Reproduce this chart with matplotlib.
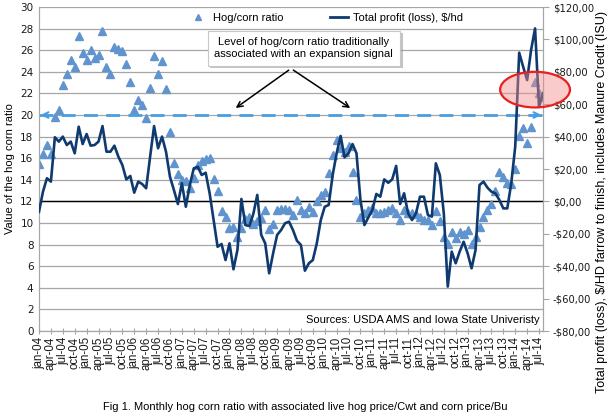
import matplotlib
matplotlib.use("Agg")
import matplotlib.pyplot as plt
import matplotlib.patheffects as pe
from matplotlib.patches import Ellipse
from matplotlib.lines import Line2D
import numpy as np

# ---------------- data ----------------
months = [f"{m}-{y:02d}" for y in range(4, 15) for m in
          ["jan", "feb", "mar", "apr", "may", "jun", "jul", "aug", "sep", "oct", "nov", "dec"]][:128]

hog_corn_ratio = [
    15.5, 16.4, 17.2, 16.4, 19.8, 20.5, 22.8, 23.8, 25.1, 24.4, 27.3, 25.7,
    25.1, 26.0, 25.3, 25.6, 27.8, 24.4, 23.8, 26.3, 26.1, 25.9, 24.7, 23.1,
    20.5, 21.4, 20.9, 19.7, 22.5, 25.5, 23.8, 25.0, 22.4, 18.4, 15.6, 14.5,
    14.0, 13.9, 13.2, 14.2, 15.4, 15.7, 15.9, 16.0, 14.1, 13.0, 11.1, 10.6,
    9.5, 9.6, 8.7, 9.5, 10.4, 10.6, 9.9, 10.2, 10.5, 11.2, 9.4, 9.9,
    11.2, 11.3, 11.3, 11.2, 10.7, 12.1, 11.2, 10.9, 11.5, 11.0, 12.0, 12.6,
    12.9, 14.6, 16.3, 17.7, 16.9, 16.6, 17.1, 14.7, 12.1, 10.6, 10.9, 11.2,
    11.4, 10.9, 10.9, 11.0, 11.2, 11.4, 10.9, 10.3, 11.2, 10.9, 10.9, 10.8,
    10.6, 10.3, 10.3, 9.8, 11.1, 10.2, 8.7, 8.1, 9.2, 8.6, 9.2, 9.0,
    9.35, 8.1, 8.7, 9.65, 10.6, 11.2, 11.8, 13.0, 14.75, 14.3, 13.7, 13.6,
    15.0, 18.1, 18.8, 17.4, 18.9, 23.1, 22.0, 21.7,
]

total_profit = [
    -6.4, 6.0, 14.3, 12.2, 39.6, 36.9, 40.0, 34.8, 36.9, 29.7, 46.1, 35.4,
    41.6, 34.4, 34.8, 36.9, 46.5, 30.7, 30.7, 34.4, 27.6, 22.5, 13.6, 15.7,
    5.4, 12.2, 10.7, 8.1, 27.6, 46.5, 32.8, 40.0, 30.7, 15.2, 7.0, -1.6,
    11.2, -3.3, 10.1, 20.4, 21.4, 16.3, 17.7, 5.0, -11.5, -28.0, -26.3, -36.2,
    -25.9, -41.9, -30.0, 1.5, -14.6, -15.2, -7.8, 4.0, -20.7, -25.9, -44.4, -32.0,
    -20.7, -17.7, -13.5, -12.5, -17.7, -24.3, -26.9, -42.8, -38.2, -36.2, -25.9, -11.5,
    -3.3, -2.2, 16.3, 29.7, 40.4, 27.2, 29.7, 35.4, 29.7, 0.9, -14.6, -9.8,
    -5.3, 4.6, 2.9, 13.6, 11.5, 13.6, 21.9, -1.6, 5.0, -7.3, -11.5, -7.3,
    2.9, 2.9, -8.4, -9.4, 23.5, 16.3, -7.3, -52.6, -31.0, -38.2, -31.0, -24.9,
    -32.0, -41.3, -30.0, 10.1, 12.2, 8.5, 6.0, 5.0, 0.9, -4.3, -4.3, 11.2,
    33.8, 91.8, 83.1, 74.9, 93.5, 106.8, 58.5, 66.7,
]

expansion_level = 20
left_ticks = list(range(0, 31, 2))
right_ticks = list(range(-80, 121, 20))

# ---------------- figure ----------------
plt.rcParams['font.family'] = ['Liberation Sans', 'DejaVu Sans']
fig = plt.figure(figsize=(6.10, 4.19), dpi=100)
ax = fig.add_axes([39/610, 1-331/419, (543-39)/610, (331-7)/419])
ax2 = ax.twinx()

x = np.arange(len(months))
grid_c = '#A6A6A6'
tri_c = '#6194CE'
line_c = '#0E3A70'

# left axis
ax.set_xlim(0, len(months) - 1)
ax.set_ylim(0, 30)
ax.set_yticks(left_ticks)
ax.set_yticklabels([str(t) for t in left_ticks], family='DejaVu Sans', fontsize=7.5, color='#1a1a1a')
ax.tick_params(axis='y', length=0, pad=4)
for v in left_ticks:
    ax.axhline(v, color=grid_c, lw=0.9, zorder=0)
ax.axhline(12, color='black', lw=1.0, zorder=1)

ax.plot(x, hog_corn_ratio, linestyle='none', marker='^', markersize=5.3,
        color=tri_c, markeredgecolor=tri_c, zorder=3)

# x ticks
tick_idx = list(range(0, len(months), 3))
ax.set_xticks(tick_idx)
ax.set_xticklabels([months[i] for i in tick_idx], rotation=90, fontsize=8.3, color='#1a1a1a')
ax.tick_params(axis='x', length=4, direction='inout', color=grid_c, pad=2)

for s in ['left', 'right', 'bottom', 'top']:
    ax.spines[s].set_color(grid_c)
ax.spines['top'].set_visible(False)

ax.set_ylabel('Value of the hog corn ratio', fontsize=8, labelpad=4)

# dashed expansion line with arrowheads
dash_c = '#4A9DE0'
ax.plot(x[[0, -1]], [expansion_level, expansion_level], color=dash_c, lw=2,
        dashes=(5, 3), zorder=4)
ax.annotate('', xy=(-0.3, expansion_level), xytext=(3, expansion_level),
            arrowprops=dict(arrowstyle='->', color=dash_c, lw=1.5), annotation_clip=False, zorder=4)
ax.annotate('', xy=(len(months) - 0.7, expansion_level), xytext=(len(months) - 4, expansion_level),
            arrowprops=dict(arrowstyle='->', color=dash_c, lw=1.5), annotation_clip=False, zorder=4)

# right axis
ax2.set_ylim(-80, 120)
ax2.set_yticks(right_ticks)
ax2.set_yticklabels([("-$" if t < 0 else "$") + f"{abs(t)},00" for t in right_ticks],
                    family='DejaVu Sans', fontsize=7.2, color='#1a1a1a')
ax2.tick_params(axis='y', length=4, color=grid_c, pad=3)
for s in ['left', 'right', 'bottom', 'top']:
    ax2.spines[s].set_color(grid_c)
ax2.spines['top'].set_visible(False)
ax2.plot(x, total_profit, color=line_c, lw=1.9, zorder=5)
ax2.set_ylabel('Total profit (loss), $/HD farrow to finish, includes Manure Credit (ISU)',
               fontsize=9, va='center')
ax2.yaxis.set_label_coords((602 - 39) / 504, (331 - 202) / 324)

# red ellipse highlight
ell = Ellipse((125.0, 69.0), 17.6, 22.0, facecolor=(0.95, 0.55, 0.55, 0.45),
              edgecolor='#E8201E', lw=1.6, clip_on=False, zorder=6)
ax2.add_patch(ell)

# annotation box and arrows
t = ax.text(66.7, 26.2, 'Level of hog/corn ratio traditionally\nassociated with an expansion signal',
            ha='center', va='center', fontsize=8, zorder=7,
            bbox=dict(boxstyle='square,pad=0.6', facecolor='white', edgecolor='#C8C8C8', lw=0.8))
t.get_bbox_patch().set_path_effects([pe.withSimplePatchShadow(offset=(2, -2), shadow_rgbFace='#888888', alpha=0.5)])
for tx in (49.0, 79.0):
    ax.annotate('', xy=(tx, 20.5), xytext=(63.5, 24.3),
                arrowprops=dict(arrowstyle='->', color='black', lw=1.1), zorder=7)

# legend
handles = [Line2D([], [], linestyle='none', marker='^', markersize=5, color=tri_c),
           Line2D([], [], color=line_c, lw=2.0)]
leg = ax2.legend(handles, ['Hog/corn ratio', 'Total profit (loss), $/hd'], loc='upper center',
                 bbox_to_anchor=(0.57, 1.012), ncol=2, frameon=False, fontsize=8,
                 columnspacing=4.2, handlelength=1.6, handletextpad=0.5)
leg.set_zorder(8)

# sources text
ax.text(0.993, 0.035, 'Sources: USDA AMS and Iowa State Univeristy', transform=ax.transAxes,
        ha='right', va='center', fontsize=8, zorder=7)

# caption
fig.text(0.5, 1 - 407/419, 'Fig 1. Monthly hog corn ratio with associated live hog price/Cwt and corn price/Bu',
         ha='center', va='center', fontsize=8)

fig.savefig('out.png', dpi=100)
